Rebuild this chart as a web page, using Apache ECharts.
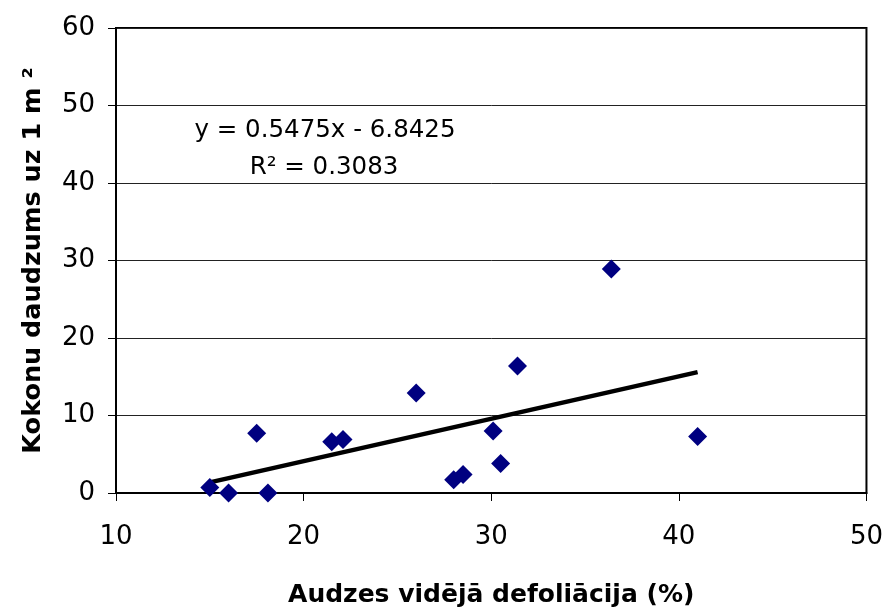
<!DOCTYPE html>
<html>
<head>
<meta charset="utf-8">
<script src="https://cdn.jsdelivr.net/npm/echarts@6/dist/echarts.min.js"></script>
<style>html,body{margin:0;padding:0;background:#fff}#c{width:886px;height:613px}</style>
</head>
<body>
<div id="c"></div>
<script>
// Data
var defoliation = [15.0, 16.0, 17.5, 18.1, 21.5, 22.1, 26.0, 28.0, 28.5, 30.1, 30.5, 31.4, 36.4, 41.0];
var cocoons     = [0.7, 0.0, 7.7, 0.0, 6.6, 6.9, 12.9, 1.7, 2.4, 8.0, 3.8, 16.4, 28.9, 7.3];
var trendX = [15, 41];
var trendY = [1.37, 15.60];
var xTicks = [10, 20, 30, 40, 50];
var yTicks = [0, 10, 20, 30, 40, 50, 60];
var eqText = 'y = 0.5475x - 6.8425';
var r2Text = 'R² = 0.3083';
var xTitle = 'Audzes vidējā defoliācija (%)';
var yTitle = 'Kokonu daudzums uz 1 m ²';

var pts = defoliation.map(function (v, i) { return [v, cocoons[i]]; });
var trend = trendX.map(function (v, i) { return [v, trendY[i]]; });

var chart = echarts.init(document.getElementById('c'), null, {renderer: 'canvas'});
var font = 'DejaVu Sans';
chart.setOption({
  animation: false,
  backgroundColor: '#fff',
  grid: {left: 116, top: 28, width: 751, height: 470, show: true, borderColor: '#000', borderWidth: 2, backgroundColor: 'transparent'},
  xAxis: {
    type: 'value', min: xTicks[0], max: xTicks[xTicks.length - 1], interval: 10,
    name: xTitle, nameLocation: 'middle', nameGap: 90,
    nameTextStyle: {fontFamily: font, fontWeight: 'bold', fontSize: 25, color: '#000'},
    axisLine: {show: true, onZero: false, lineStyle: {color: '#000', width: 2}},
    axisTick: {show: true, inside: false, length: 8, lineStyle: {color: '#000', width: 1}},
    axisLabel: {fontFamily: font, fontSize: 26, color: '#000', margin: 31},
    splitLine: {show: false}
  },
  yAxis: {
    type: 'value', min: yTicks[0], max: yTicks[yTicks.length - 1], interval: 10,
    name: yTitle, nameLocation: 'middle', nameGap: 70, nameRotate: 90,
    nameTextStyle: {fontFamily: font, fontWeight: 'bold', fontSize: 25.5, color: '#000'},
    axisLine: {show: true, onZero: false, lineStyle: {color: '#000', width: 2}},
    axisTick: {show: true, inside: false, length: 8, lineStyle: {color: '#000', width: 1}},
    axisLabel: {fontFamily: font, fontSize: 26, color: '#000', margin: 21},
    splitLine: {show: true, lineStyle: {color: '#222', width: 1}}
  },
  series: [
    {
      type: 'line', data: trend, symbol: 'none', silent: true,
      lineStyle: {color: '#000', width: 4.5}, z: 2
    },
    {
      type: 'scatter', data: pts, symbol: 'diamond', symbolSize: 19,
      itemStyle: {color: '#000080', opacity: 1}, z: 3
    }
  ],
  graphic: [
    {type: 'text', x: 325, y: 131, style: {text: eqText, font: '24.5px "DejaVu Sans"', fill: '#000', textAlign: 'center', textVerticalAlign: 'middle'}},
    {type: 'text', x: 324, y: 168, style: {text: r2Text, font: '24.5px "DejaVu Sans"', fill: '#000', textAlign: 'center', textVerticalAlign: 'middle'}}
  ]
});
</script>
</body>
</html>
